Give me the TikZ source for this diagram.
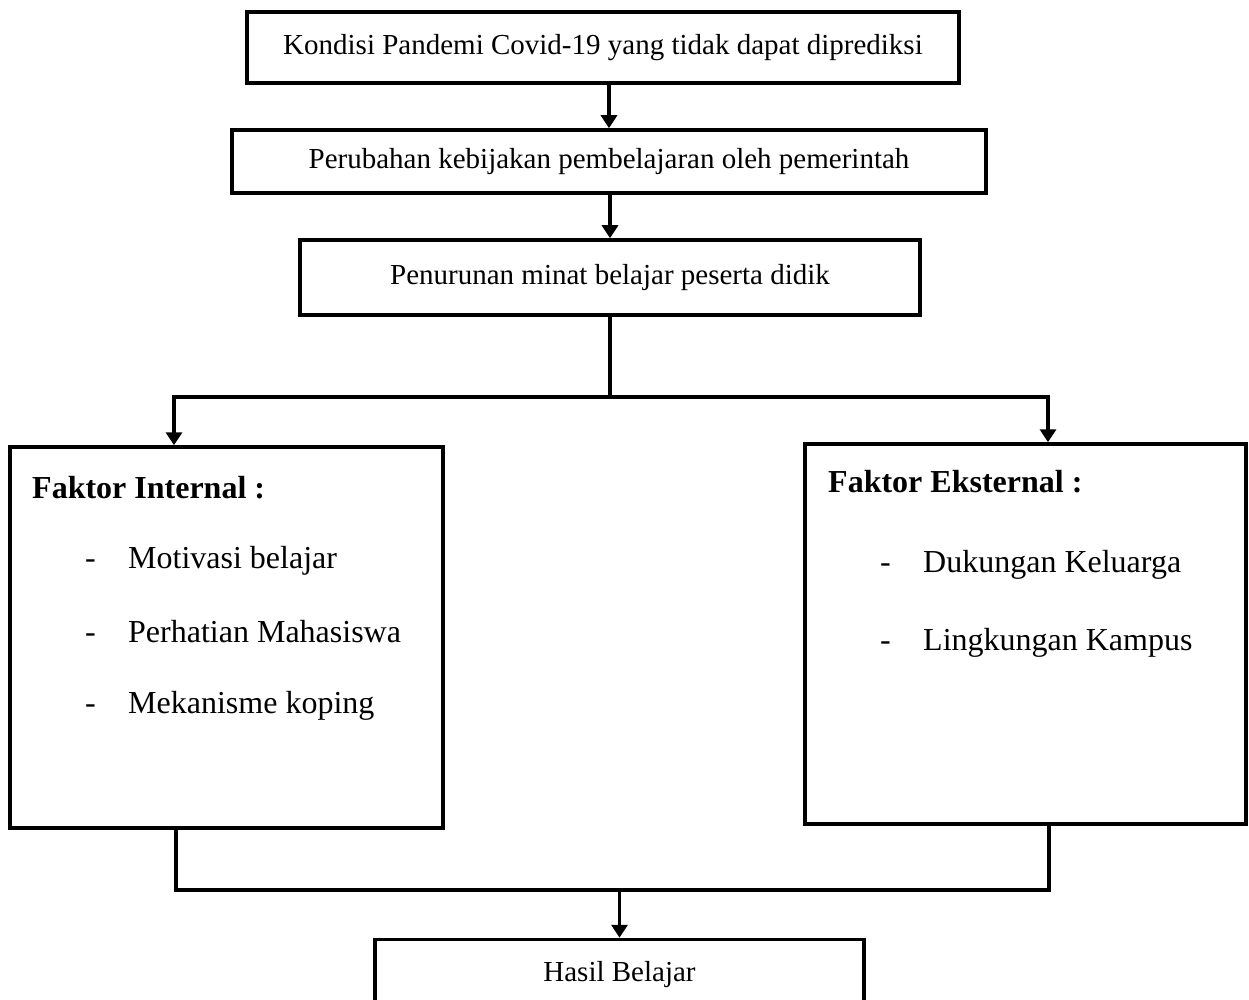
\documentclass[tikz,border=0pt]{standalone}
\usepackage{fontspec}
\setmainfont{Liberation Serif}
\usetikzlibrary{arrows.meta}
\begin{document}
\begin{tikzpicture}[x=1pt,y=-1pt,
  box/.style={draw=black, line width=3.5pt, fill=white, inner sep=0pt, align=center},
  conn/.style={draw=black, line width=3.5pt},
  arr/.style={conn, -{Triangle[length=13pt,width=16pt]}},
  toptext/.style={font=\fontsize{29}{34}\selectfont},
  headtext/.style={anchor=base west, inner sep=0pt, font=\fontsize{32}{37}\selectfont\bfseries},
  itemtext/.style={anchor=base west, inner sep=0pt, font=\fontsize{32}{37}\selectfont}]
\useasboundingbox (0,0) rectangle (1249,1000);
% boxes
\node[box, toptext, minimum width=712pt, minimum height=71pt] (b1) at (603,47.5) {Kondisi Pandemi Covid-19 yang tidak dapat diprediksi};
\node[box, toptext, minimum width=754pt, minimum height=63pt] (b2) at (609,161.5) {Perubahan kebijakan pembelajaran oleh pemerintah};
\node[box, toptext, minimum width=620pt, minimum height=75pt] (b3) at (610,277.5) {Penurunan minat belajar peserta didik};
\node[box, minimum width=433pt, minimum height=381pt] (b4) at (226.5,637.5) {};
\node[box, minimum width=441pt, minimum height=380pt] (b5) at (1025.5,634) {};
\node[box, toptext, minimum width=489pt, minimum height=71pt] (b6) at (619.5,975) {Hasil Belajar};
% texts in left box
\node[headtext] (h4) at (32,498) {Faktor Internal :};
\node[itemtext] (d41) at (85,568) {-};
\node[itemtext] (t41) at (128,568) {Motivasi belajar};
\node[itemtext] (d42) at (85,642) {-};
\node[itemtext] (t42) at (128,642) {Perhatian Mahasiswa};
\node[itemtext] (d43) at (85,713) {-};
\node[itemtext] (t43) at (128,713) {Mekanisme koping};
% texts in right box
\node[headtext] (h5) at (828,492) {Faktor Eksternal :};
\node[itemtext] (d51) at (880,572) {-};
\node[itemtext] (t51) at (923,572) {Dukungan Keluarga};
\node[itemtext] (d52) at (880,650) {-};
\node[itemtext] (t52) at (923,650) {Lingkungan Kampus};
% connectors
\coordinate (split) at (610,397);
\coordinate (jl) at (174,397);
\coordinate (jr) at (1048,397);
\coordinate (bl) at (176,890);
\coordinate (br) at (1049,890);
\draw[arr] (b2.north |- b1.south) -- (b2.north);
\draw[arr] (b3.north |- b2.south) -- (b3.north);
\draw[conn] (b3.south) -- (split);
\draw[conn, line cap=rect] (jl) -- (jr);
\draw[arr] (jl) -- (jl |- b4.north);
\draw[arr] (jr) -- (jr |- b5.north);
\draw[conn, line cap=rect] (bl |- b4.south) -- (bl) -- (br) -- (br |- b5.south);
\draw[arr] (b6.north |- bl) -- (b6.north);
\end{tikzpicture}
\end{document}
